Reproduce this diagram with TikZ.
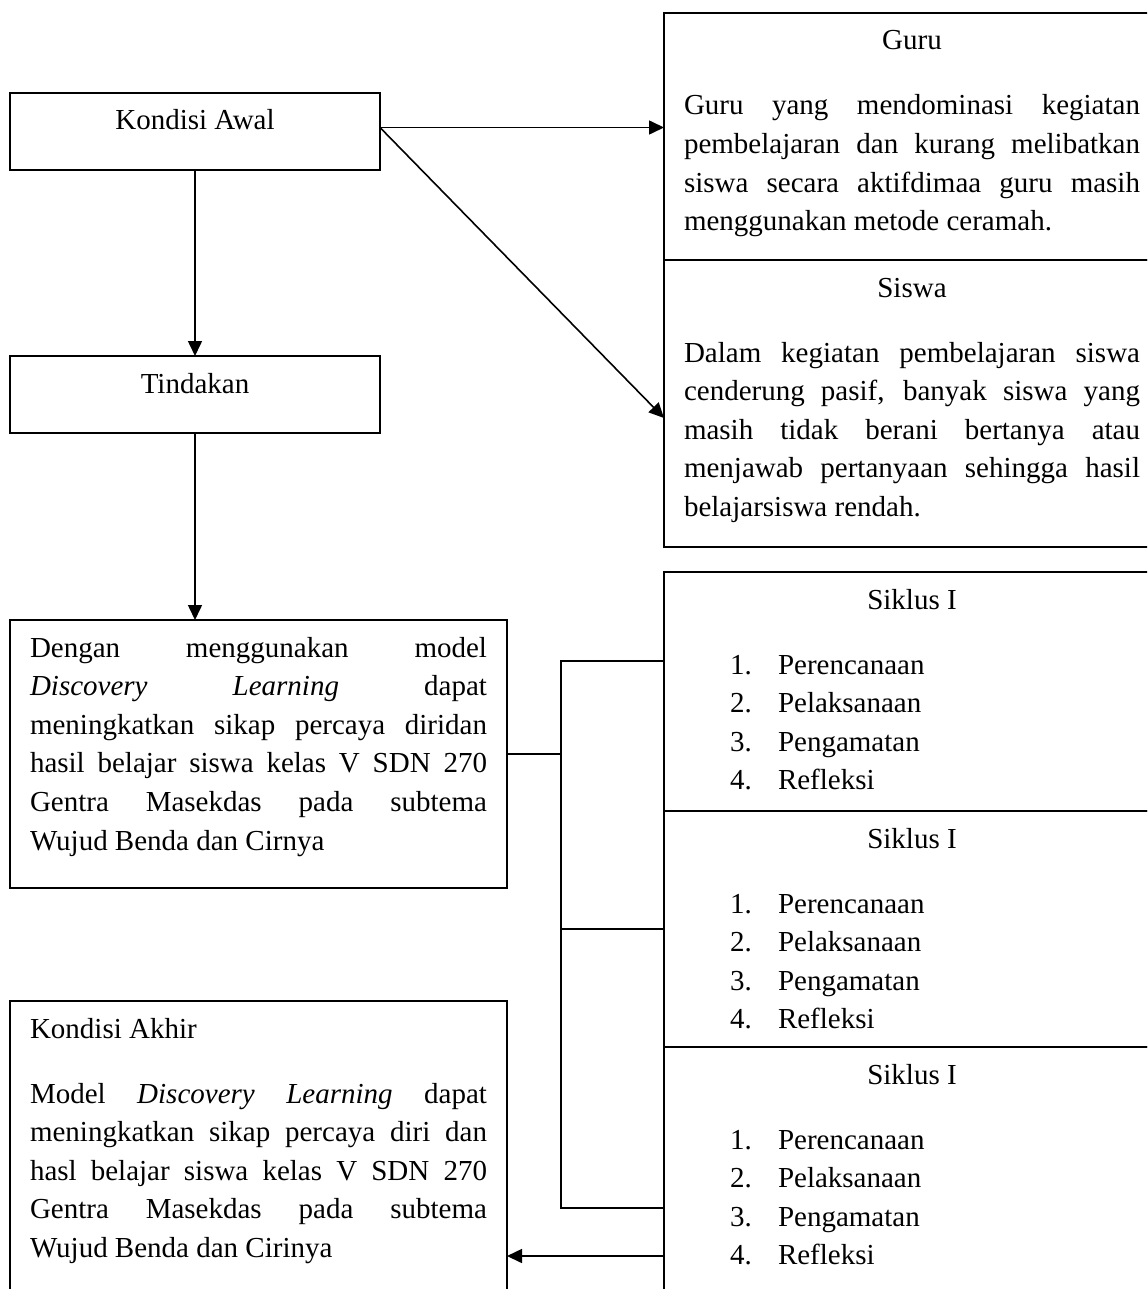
\documentclass[tikz,border=0pt]{standalone}
\usepackage{fontspec}
\setmainfont{Liberation Serif}
\usepackage{tikz}
\usetikzlibrary{arrows.meta, positioning}

\hyphenpenalty=10000
\newcommand{\judul}[1]{{\centering #1\par}\vspace{13.2pt}}
\newcommand{\tahap}[2]{\hspace*{23pt}\makebox[24pt][l]{#1.}#2\par}
\newcommand{\siklustahap}{\tahap{1}{Perencanaan}\tahap{2}{Pelaksanaan}\tahap{3}{Pengamatan}\tahap{4}{Refleksi}}

\begin{document}
\begin{tikzpicture}[
        node distance=93pt,
        box/.style={draw, line width=0.8pt, outer sep=0pt, inner xsep=10pt, inner ysep=0pt, text height=18.5pt, font=\fontsize{14.5pt}{19.3pt}\selectfont},
        panel/.style={box, text width=228pt, align=justify},
        arrow/.style={-{Triangle[length=7.5pt, width=7pt]}, line width=0.8pt},
        link/.style={line width=0.8pt}
    ]
        \useasboundingbox (0,0) rectangle (573.5pt,-644.5pt);
        \clip (0,0) rectangle (573.5pt,-644.5pt);

        % Left column
        \node[box, anchor=north west, minimum width=185pt, text depth=20pt] (awal) at (5pt,-46.5pt) {Kondisi Awal};
        \node[box, minimum width=185pt, text depth=20pt, below=of awal] (tindakan) {Tindakan};
        \node[panel, text width=228.5pt, text depth=115.5pt, below right=93.5pt and 0pt of tindakan.south west] (dengan) {Dengan menggunakan model\linebreak \textit{Discovery} \textit{Learning} dapat\linebreak meningkatkan sikap percaya diridan\linebreak hasil belajar siswa kelas V SDN 270\linebreak Gentra Masekdas pada subtema\linebreak Wujud Benda dan Cirnya};
        \node[panel, text width=228.5pt, text depth=140pt, below right=56.5pt and 0pt of dengan.south west] (akhir) {Kondisi Akhir\par\vspace{13.2pt}Model \textit{Discovery} \textit{Learning} dapat\linebreak meningkatkan sikap percaya diri dan\linebreak hasl belajar siswa kelas V SDN 270\linebreak Gentra Masekdas pada subtema\linebreak Wujud Benda dan Cirinya};

        % Right column
        \node[panel, anchor=north west, text depth=105pt] (guru) at (332pt,-6.5pt) {\judul{Guru}Guru yang mendominasi kegiatan\linebreak pembelajaran dan kurang melibatkan\linebreak siswa secara aktifdimaa guru masih\linebreak menggunakan metode ceramah.};
        \node[panel, text depth=125pt, below=0pt of guru] (siswa) {\judul{Siswa}Dalam kegiatan pembelajaran siswa\linebreak cenderung pasif, banyak siswa yang\linebreak masih tidak berani bertanya atau\linebreak menjawab pertanyaan sehingga hasil\linebreak belajarsiswa rendah.};
        \node[panel, text depth=101pt, below=12.5pt of siswa] (siklusA) {\judul{Siklus I}\siklustahap};
        \node[panel, text depth=99.5pt, below=0pt of siklusA] (siklusB) {\judul{Siklus I}\siklustahap};
        \node[panel, text depth=166.5pt, below=0pt of siklusB] (siklusC) {\judul{Siklus I}\siklustahap};

        % Arrows
        \coordinate (awalout) at ([yshift=2pt]awal.east);
        \draw[arrow] (awalout) -- (awalout -| guru.west);
        \draw[arrow] (awalout) -- ([yshift=-7.25pt]siswa.west);
        \draw[arrow] (awal) -- (tindakan);
        \draw[arrow] (tindakan.south) -- (tindakan.south |- dengan.north);

        % Bracket to the cycles
        \draw[link] (dengan.east) -- ++(27pt,0) coordinate (cabang);
        \draw[link] ([yshift=15.25pt]siklusA.west) -| (cabang) |- ([yshift=12pt]siklusC.west);
        \draw[link] (cabang |- siklusB.west) -- (siklusB.west);
        \draw[arrow] ([yshift=-12pt]siklusC.west) -- ([yshift=-12pt]siklusC.west -| akhir.east);
\end{tikzpicture}
\end{document}
